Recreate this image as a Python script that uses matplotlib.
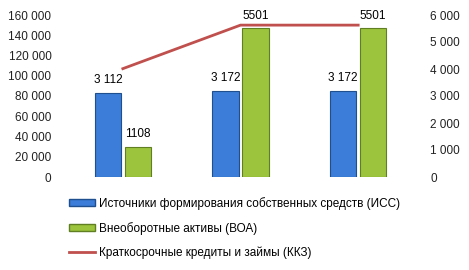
import numpy as np
import matplotlib.pyplot as plt
from matplotlib.patches import Patch
from matplotlib.lines import Line2D

# Data
groups = ['1', '2', '3']
iss = [3112, 3172, 3172]
voa = [1108, 5501, 5501]
kkz = [107000, 150000, 150000]
iss_labels = ['3 112', '3 172', '3 172']
voa_labels = ['1108', '5501', '5501']
left_ticks = [0, 20000, 40000, 60000, 80000, 100000, 120000, 140000, 160000]
right_ticks = [0, 1000, 2000, 3000, 4000, 5000, 6000]

plt.rcParams['font.family'] = ['Liberation Sans', 'DejaVu Sans']

blue, blue_edge = '#3b7dd8', '#1f4f8f'
green, green_edge = '#9cc43c', '#5f7f22'
red = '#c0504d'

fig = plt.figure(figsize=(4.69, 2.70), dpi=100)
ax = fig.add_axes([64 / 469, 93 / 270, 353 / 469, 162 / 270])
ax2 = ax.twinx()

x = np.arange(len(groups))
w = 0.225
gap = 0.03

# Line on left axis
ax.plot(x, kkz, color=red, lw=2)
ax.set_ylim(0, 160000)
ax.set_xlim(-0.5, 2.5)
ax.set_yticks(left_ticks)
ax.set_yticklabels([f'{v:,}'.replace(',', ' ') for v in left_ticks])

# Bars on right axis
b1 = ax2.bar(x - w / 2 - gap / 2, iss, w, color=blue, edgecolor=blue_edge, lw=0.8)
b2 = ax2.bar(x + w / 2 + gap / 2, voa, w, color=green, edgecolor=green_edge, lw=0.8)
ax2.set_ylim(0, 6000)
ax2.set_yticks(right_ticks)
ax2.set_yticklabels([f'{v:,}'.replace(',', ' ') for v in right_ticks])
ax.set_zorder(ax2.get_zorder() + 1)
ax.patch.set_visible(False)

for rect, lab in zip(b1, iss_labels):
    ax2.annotate(lab, (rect.get_x() + rect.get_width() / 2, rect.get_height()),
                 xytext=(0, 5), textcoords='offset points', ha='center', va='bottom', fontsize=8.5)
for rect, lab in zip(b2, voa_labels):
    ax2.annotate(lab, (rect.get_x() + rect.get_width() / 2, rect.get_height()),
                 xytext=(0, 5), textcoords='offset points', ha='center', va='bottom', fontsize=8.5)

for a in (ax, ax2):
    for s in a.spines.values():
        s.set_visible(False)
    a.tick_params(length=0, labelsize=8.5, colors='#222222')
ax.set_xticks([])
ax.tick_params(axis='y', pad=9)
ax2.tick_params(axis='y', pad=9.5)

handles = [Patch(facecolor=blue, edgecolor=blue_edge),
           Patch(facecolor=green, edgecolor=green_edge),
           Line2D([0], [0], color=red, lw=2)]
labels = ['Источники формирования собственных средств (ИСС)',
          'Внеоборотные активы (ВОА)',
          'Краткосрочные кредиты и займы (ККЗ)']
fig.legend(handles, labels, loc='upper left', bbox_to_anchor=(69 / 469, 1 - 197 / 270),
           frameon=False, fontsize=8.5, handlelength=2.2, handleheight=0.5,
           handletextpad=0.3, labelspacing=1.0, borderaxespad=0, borderpad=0)

fig.savefig('out.png', dpi=100)
